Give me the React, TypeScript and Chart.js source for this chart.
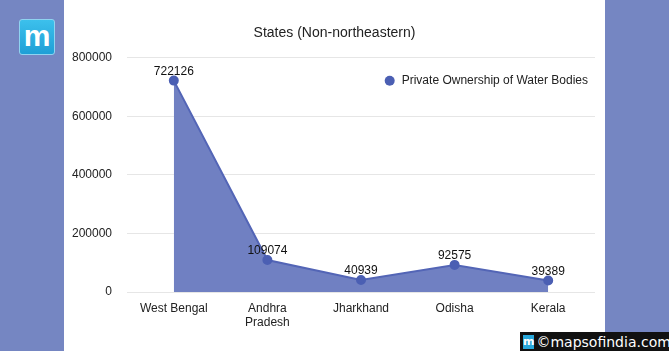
import React, { useEffect, useRef } from "react";
import { Chart, registerables } from "chart.js";

Chart.register(...registerables);

const categories: (string | string[])[] = ["West Bengal", ["Andhra", "Pradesh"], "Jharkhand", "Odisha", "Kerala"];
const values: number[] = [722126, 109074, 40939, 92575, 39389];
const seriesName = "Private Ownership of Water Bodies";
const titleText = "States (Non-northeastern)";
const yTicks: number[] = [0, 200000, 400000, 600000, 800000];

const FONT = "'Liberation Sans', Arial, sans-serif";
const LINE = "#5365b6";
const POINT = "#4b5fb3";
const FILL = "rgba(112,128,194,1)";
const BAND = "#7586c2";

const labelPlugin = {
  id: "valueLabels",
  afterDatasetsDraw(chart: any) {
    const ctx = chart.ctx;
    const meta = chart.getDatasetMeta(0);
    ctx.save();
    ctx.font = `12px ${FONT}`;
    ctx.fillStyle = "#111";
    ctx.textAlign = "center";
    ctx.textBaseline = "bottom";
    meta.data.forEach((pt: any, i: number) => {
      ctx.fillText(String(values[i]), pt.x, pt.y - 3);
    });
    ctx.restore();
  },
};

const legendPlugin = {
  id: "customLegend",
  afterDraw(chart: any) {
    const ctx = chart.ctx;
    const area = chart.chartArea;
    ctx.save();
    ctx.font = `12px ${FONT}`;
    const w = ctx.measureText(seriesName).width;
    const textX = area.right - 7 - w;
    const y = area.top + 23;
    ctx.fillStyle = POINT;
    ctx.beginPath();
    ctx.arc(textX - 12, y, 5, 0, Math.PI * 2);
    ctx.fill();
    ctx.fillStyle = "#222";
    ctx.textAlign = "left";
    ctx.textBaseline = "middle";
    ctx.fillText(seriesName, textX, y);
    ctx.restore();
  },
};

export default function App() {
  const ref = useRef<HTMLCanvasElement>(null);
  useEffect(() => {
    if (!ref.current) return;
    const chart = new Chart(ref.current, {
      type: "line",
      data: {
        labels: categories as any,
        datasets: [
          {
            label: seriesName,
            data: values,
            borderColor: LINE,
            borderWidth: 2,
            backgroundColor: FILL,
            fill: "origin",
            tension: 0,
            pointRadius: 4,
            pointBackgroundColor: POINT,
            pointBorderColor: POINT,
            yAxisID: "y",
          },
        ],
      },
      options: {
        responsive: false,
        animation: false,
        layout: { padding: 0 },
        plugins: {
          legend: { display: false },
          tooltip: { enabled: false },
          title: {
            display: true,
            text: titleText,
            color: "#222",
            font: { family: FONT, size: 14, weight: "normal" as any },
            padding: { top: 25, bottom: 16 },
          },
        },
        scales: {
          x: {
            offset: true,
            grid: { display: false, drawTicks: false },
            border: { display: false },
            ticks: {
              color: "#222",
              font: { family: FONT, size: 12 },
              maxRotation: 0,
              autoSkip: false,
              padding: 9,
            },
            afterFit(scale: any) {
              scale.height = 59;
            },
          },
          y: {
            min: 0,
            max: 800000,
            afterBuildTicks(scale: any) {
              scale.ticks = yTicks.map((v) => ({ value: v }));
            },
            grid: { color: "#e6e6e6", drawTicks: false, lineWidth: 1 },
            border: { display: false },
            ticks: {
              color: "#222",
              font: { family: FONT, size: 12 },
              padding: 15,
              callback: (v: any) => String(v),
            },
            afterFit(scale: any) {
              scale.width = 127;
            },
          },
          y2: {
            position: "right",
            min: 0,
            max: 800000,
            grid: { display: false, drawTicks: false },
            border: { display: false },
            ticks: { display: false },
            afterFit(scale: any) {
              scale.width = 74;
            },
          },
        },
      },
      plugins: [labelPlugin, legendPlugin],
    });
    return () => chart.destroy();
  }, []);

  return (
    <div style={{ position: "fixed", left: 0, top: 0, width: 669, height: 351, background: "#fff", overflow: "hidden" }}>
      <div style={{ position: "absolute", left: 0, top: 0, width: 64, height: 351, background: BAND }} />
      <div style={{ position: "absolute", left: 605, top: 0, width: 64, height: 351, background: BAND }} />
      <div
        style={{
          position: "absolute",
          left: 19,
          top: 19,
          width: 36,
          height: 36,
          borderRadius: 3,
          background: "linear-gradient(#3cc0ec, #1f9fd6)",
          border: "1px solid #8fd3f0",
          boxSizing: "border-box",
          color: "#fff",
          fontFamily: FONT,
          fontWeight: "bold",
          fontSize: 30,
          lineHeight: "32px",
          textAlign: "center",
        }}
      >
        m
      </div>
      <canvas ref={ref} width={669} height={351} style={{ position: "absolute", left: 0, top: 0 }} />
      <div
        style={{
          position: "absolute",
          left: 520,
          top: 332,
          width: 149,
          height: 19,
          background: "#111",
          display: "flex",
          alignItems: "center",
          fontFamily: "'DejaVu Sans', sans-serif",
          color: "#fff",
          fontSize: 14,
          whiteSpace: "nowrap",
        }}
      >
        <span
          style={{
            display: "inline-block",
            width: 14,
            height: 14,
            marginLeft: 3,
            marginRight: 2,
            background: "#28a8dc",
            color: "#fff",
            fontSize: 11,
            fontWeight: "bold",
            lineHeight: "13px",
            textAlign: "center",
          }}
        >
          m
        </span>
        <span>©mapsofindia.com</span>
      </div>
    </div>
  );
}
